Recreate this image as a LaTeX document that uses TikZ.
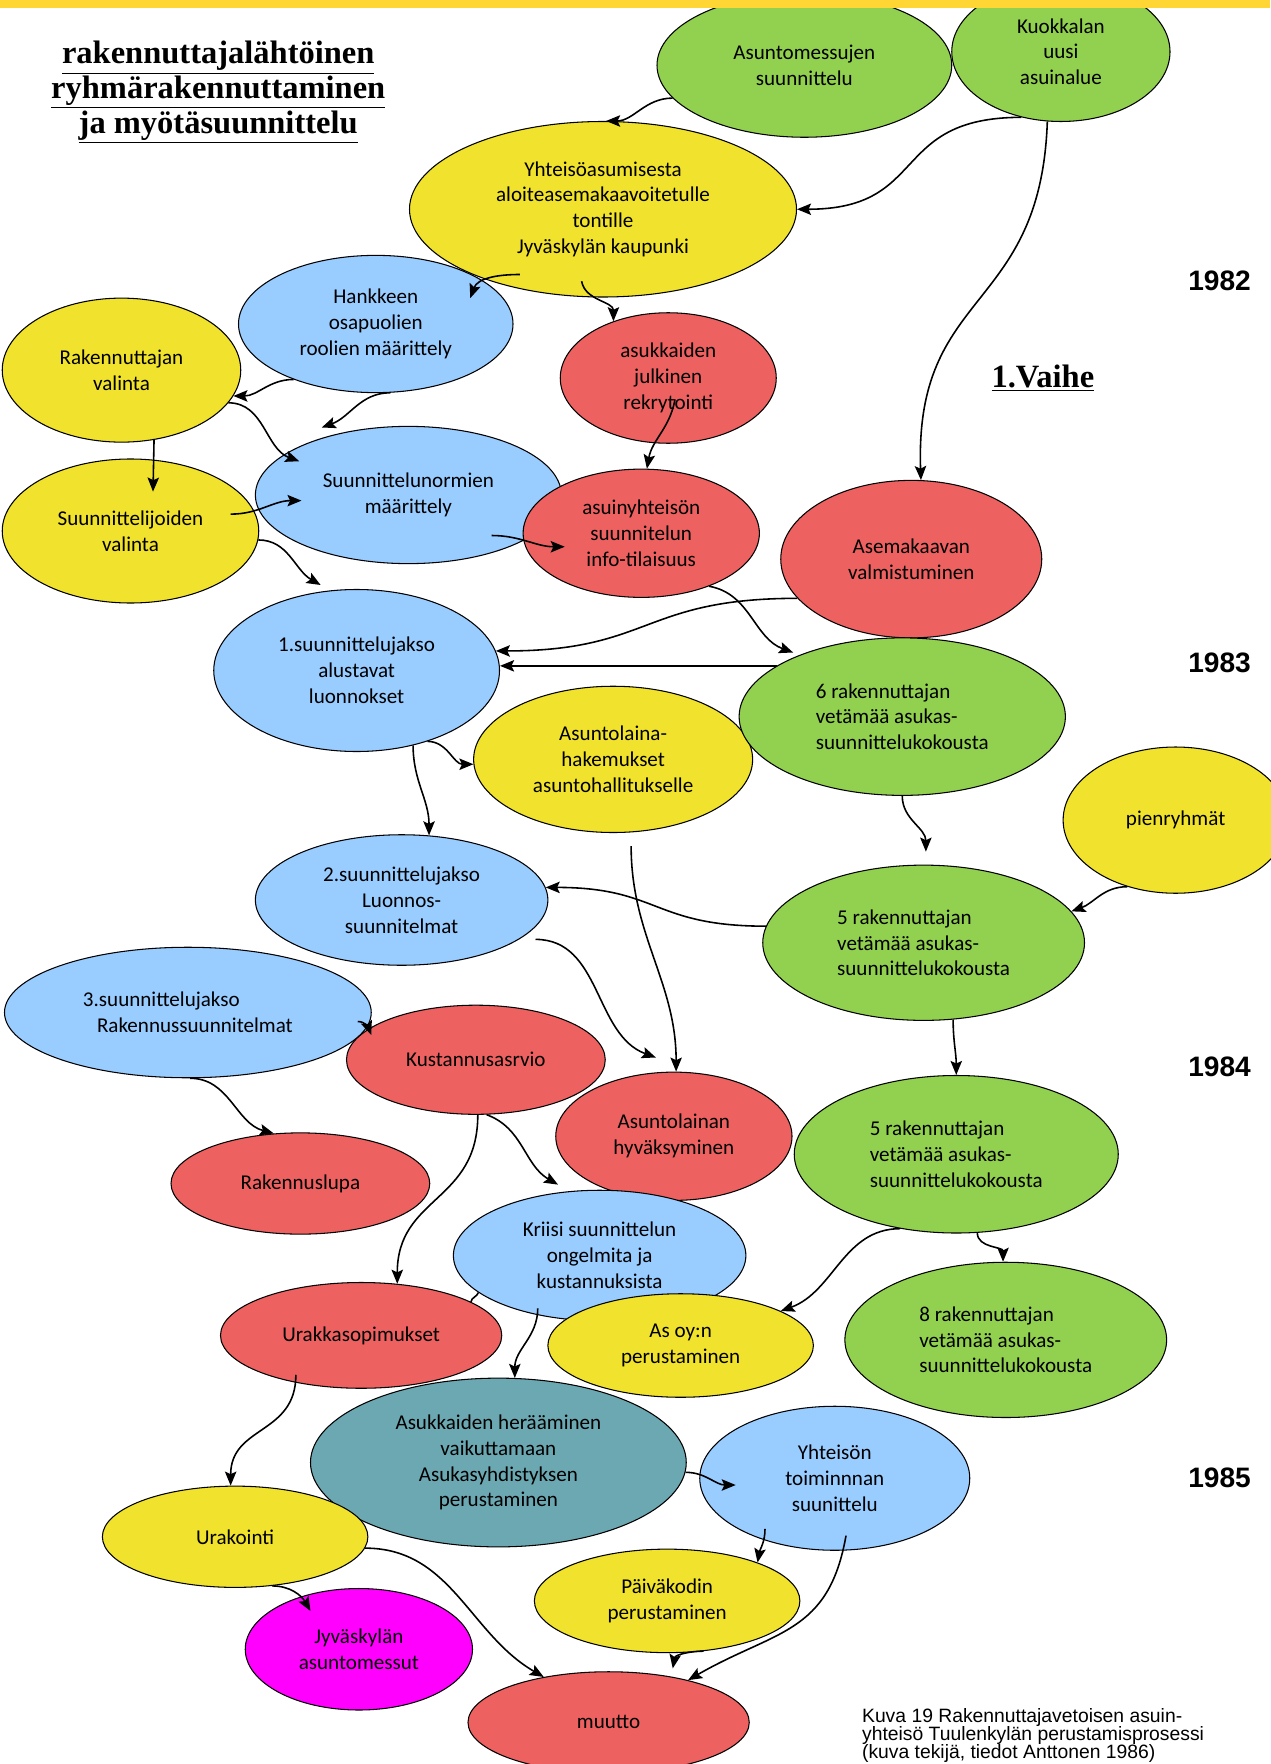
\documentclass[tikz,border=0pt]{standalone}
\usepackage{fontspec}
\setmainfont{Carlito}
\newfontfamily\headfont{Liberation Serif}
\newfontfamily\armfont{Liberation Sans}
\usetikzlibrary{shapes.geometric,arrows.meta,calc}

\definecolor{barcol}{HTML}{FFD633}
\definecolor{yel}{HTML}{F1E22D}
\definecolor{grn}{HTML}{92D050}
\definecolor{blu}{HTML}{99CCFF}
\definecolor{rd}{HTML}{EE6161}
\definecolor{tealc}{HTML}{6BA8B2}
\definecolor{mag}{HTML}{FF00FF}

\begin{document}
\begin{tikzpicture}[x=0.0225cm,y=0.0225cm]
    % one pixel of the sheet
    \def\pxu{0.0225cm}
    % node style definition
    \tikzstyle{bubble} = [
    	draw, ellipse, inner sep=0pt, line width=0.6pt,
    	align=center, font=\fontsize{12}{14.7}\selectfont ];
    \tikzstyle{meeting} = [bubble, fill=grn, align=left];
    \tikzstyle{conn} = [line width=0.9pt, -{Stealth[length=8pt,width=6.5pt,inset=1.5pt]}];
    \tikzstyle{head} = [font=\headfont\bfseries\fontsize{18.5}{19.8}\selectfont, align=center];
    \tikzset{sz/.style 2 args={minimum width=#1*\pxu, minimum height=#2*\pxu}}
    \useasboundingbox (0,0) rectangle (1129,-1568);

    \node[head] (title) at (194,-82)
      {\underline{rakennuttajalähtöinen}\\\underline{ryhmärakennuttaminen}\\\underline{ja myötäsuunnittelu}};

    % 1982
    \node[bubble, fill=grn, sz={262}{128}] (amess) at (715,-58) {Asuntomessujen\\suunnittelu};
    \node[bubble, fill=grn, sz={194}{124}] (kuok) at (943,-46) {Kuokkalan\\uusi\\asuinalue};
    \node[bubble, fill=yel, sz={344}{156}] (yht) at (536,-186)
      {Yhteisöasumisesta\\aloiteasemakaavoitetulle\\tontille\\Jyväskylän kaupunki};
    \node[bubble, fill=blu, sz={244}{122}] (hank) at (334,-288) {Hankkeen\\osapuolien\\roolien määrittely};
    \node[bubble, fill=yel, sz={212}{128}] (rakv) at (108,-329) {Rakennuttajan\\valinta};
    \node[bubble, fill=rd, sz={192}{116}] (rekr) at (594,-336) {asukkaiden\\julkinen\\rekrytointi};
    \node[bubble, fill=yel, sz={228}{128}] (suuv) at (116,-472) {Suunnittelijoiden\\valinta};
    \node[bubble, fill=blu, sz={272}{122}] (norm) at (363,-440) {Suunnittelunormien\\määrittely};
    \node[bubble, fill=rd, sz={210}{114}] (info) at (570,-474) {asuinyhteisön\\suunnitelun\\info-tilaisuus};
    \node[bubble, fill=rd, sz={232}{140}] (asema) at (810,-497) {Asemakaavan\\valmistuminen};
    \node[head] (vaihe) at (927,-336) {\underline{1.Vaihe}};

    % 1983
    \node[bubble, fill=blu, sz={254}{144}] (jak1) at (317,-596) {1.suunnittelujakso\\alustavat\\luonnokset};
    \node[bubble, fill=yel, sz={248}{130}] (lhak) at (545,-675) {Asuntolaina-\\hakemukset\\asuntohallitukselle};
    \node[meeting, sz={290}{140}] (kok6) at (802,-637) {6 rakennuttajan\\vetämää asukas-\\suunnittelukokousta};
    \node[bubble, fill=yel, sz={200}{130}] (pien) at (1045,-729) {pienryhmät};
    \node[bubble, fill=blu, sz={260}{116}] (jak2) at (357,-800) {2.suunnittelujakso\\Luonnos-\\suunnitelmat};
    \node[meeting, sz={286}{138}] (kok5a) at (821,-838) {5 rakennuttajan\\vetämää asukas-\\suunnittelukokousta};

    % 1984
    \node[bubble, fill=blu, sz={326}{116}, align=left] (jak3) at (167,-900)
      {3.suunnittelujakso\\\hspace*{8pt}Rakennussuunnitelmat};
    \node[bubble, fill=rd, sz={230}{97}] (kust) at (423,-942) {Kustannusasrvio};
    \node[bubble, fill=rd, sz={210}{114}] (lhyv) at (599,-1010) {Asuntolainan\\hyväksyminen};
    \node[meeting, sz={288}{140}] (kok5b) at (850,-1026) {5 rakennuttajan\\vetämää asukas-\\suunnittelukokousta};
    \node[bubble, fill=rd, sz={230}{90}] (lupa) at (267,-1052) {Rakennuslupa};
    \node[bubble, fill=blu, sz={260}{116}] (kriisi) at (533,-1116) {Kriisi suunnittelun\\ongelmita ja\\kustannuksista};
    \node[meeting, sz={286}{138}] (kok8) at (894,-1191) {8 rakennuttajan\\vetämää asukas-\\suunnittelukokousta};
    \node[bubble, fill=rd, sz={250}{94}] (urak) at (321,-1187) {Urakkasopimukset};
    \node[bubble, fill=yel, sz={236}{92}] (asoy) at (605,-1196) {As oy:n\\perustaminen};

    % 1985
    \node[bubble, fill=tealc, sz={334}{150}] (hera) at (443,-1300)
      {Asukkaiden herääminen\\vaikuttamaan\\Asukasyhdistyksen\\perustaminen};
    \node[bubble, fill=blu, sz={240}{128}] (ytoim) at (742,-1314) {Yhteisön\\toiminnnan\\suunittelu};
    \node[bubble, fill=yel, sz={236}{90}] (urakointi) at (209,-1366) {Urakointi};
    \node[bubble, fill=yel, sz={236}{92}] (pkoti) at (593,-1423) {Päiväkodin\\perustaminen};
    \node[bubble, fill=mag, sz={202}{108}] (jmess) at (319,-1466) {Jyväskylän\\asuntomessut};
    \node[bubble, fill=rd, sz={250}{90}] (muutto) at (541,-1531) {muutto};

    % years at the right
    \foreach \yr/\yy in {1982/250,1983/589,1984/948,1985/1314}
      \node[font=\armfont\bfseries\fontsize{16}{16}\selectfont] (y\yr) at (1084,-\yy) {\yr};

    \node[anchor=north west, align=left, inner sep=0pt,
      font=\armfont\fontsize{11}{10.4}\selectfont] (caption) at (766,-1518)
      {Kuva 19 Rakennuttajavetoisen asuin-\\yhteisö Tuulenkylän perustamisprosessi\\(kuva tekijä, tiedot Anttonen 1986)};

    % connectors
    \draw[conn] (amess.194) to[out=180,in=0] (yht.88);
    \draw[conn] (kuok.239) to[out=180,in=0,looseness=1.4] (yht.east);
    \draw[conn] (kuok.259) to[out=-92,in=92,looseness=1.3] (asema.83);
    \draw[conn] ($(yht)+(-74,-58)$) to[out=180,in=70] ($(hank)+(84,23)$);
    \draw[conn] ($(yht)+(-19,-64)$) to[out=-80,in=90] (rekr.134);
    \draw[conn] (hank.214) to[out=180,in=0] (rakv.347);
    \draw[conn] (hank.282) to[out=180,in=20] ($(norm)+(-77,60)$);
    \draw[conn] (rakv.343) to[out=0,in=160] ($(norm)+(-97,30)$);
    \draw[conn] (rakv.295) -- ($(suuv)+(20,35)$);
    \draw[conn] ($(suuv)+(89,15)$) to[out=0,in=180] ($(norm)+(-95,-5)$);
    \draw[conn] ($(rekr)+(6,-19)$) to[out=-100,in=80] (info.85);
    \draw[conn] ($(norm)+(74,-36)$) to[out=0,in=180] ($(info)+(-68,-12)$);
    \draw[conn] (suuv.356) to[out=0,in=150] ($(jak1)+(-32,76)$);
    \draw[conn] (info.322) to[out=-10,in=160] ($(kok6)+(-97,57)$);
    \draw[conn] (asema.199) to[out=180,in=0,looseness=1.3] (jak1.8);
    \draw[conn] (kok6.158) -- (kok6.158 -| jak1.east);
    \draw[conn] (jak1.315) to[out=0,in=180] (lhak.182);
    \draw[conn] (jak1.307) to[out=-90,in=90] (jak2.67);
    \draw[conn] (kok6.270) to[out=-90,in=90] ($(kok5a)+(2,81)$);
    \draw[conn] (pien.234) to[out=180,in=20] (kok5a.12);
    \draw[conn] (kok5a.174) to[out=180,in=0,looseness=1.3] (jak2.5);
    \draw[conn] ($(lhak)+(16,-77)$) to[out=-90,in=90] (lhyv.88);
    \draw[conn] ($(jak2)+(119,-35)$) to[out=0,in=160] ($(lhyv)+(-16,70)$);
    \draw[conn] (kok5a.291) to[out=-90,in=90] (kok5b.north);
    \draw[conn] ($(jak3)+(151,-8)$) to[out=0,in=110] ($(kust)+(-93,22)$);
    \draw[conn] (jak3.272) to[out=0,in=165] (lupa.118);
    \draw[conn] (kust.272) to[out=-90,in=90,looseness=1.2] (urak.55);
    \draw[conn] (kust.281) to[out=-20,in=150] ($(kriisi)+(-37,63)$);
    \draw[conn] (kok5b.233) to[out=180,in=20] (asoy.19);
    \draw[conn] (kok5b.285) to[out=-90,in=90] (kok8.92);
    \draw[conn] ($(kriisi)+(-55,-47)$) to[out=-90,in=90] (hera.79);
    \draw[line width=0.9pt] (kriisi.197) to[out=-110,in=80] (urak.17);
    \draw[conn] ($(urak)+(-58,-35)$) to[out=-90,in=90,looseness=1.2] (urakointi.95);
    \draw[conn] (hera.357) to[out=0,in=180] ($(ytoim)+(-88,-6)$);
    \draw[conn] ($(ytoim)+(-62,-45)$) to[out=-90,in=80] (pkoti.23);
    \draw[conn] ($(ytoim)+(10,-51)$) to[out=-100,in=30,looseness=1.2] (muutto.28);
    \draw[conn] (urakointi.307) to[out=0,in=120] ($(jmess)+(-43,34)$);
    \draw[conn] (urakointi.355) to[out=0,in=150] (muutto.145);
    \draw[conn] (pkoti.306) to[out=180,in=80] ($(muutto)+(57,48)$);

    % yellow band on top
    \fill[barcol] (0,0) rectangle (1129,-7);
\end{tikzpicture}
\end{document}
